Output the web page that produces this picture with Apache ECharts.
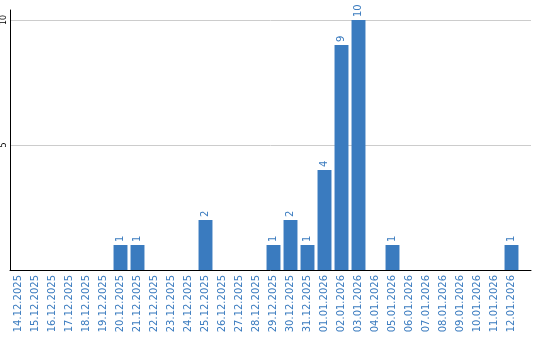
<!DOCTYPE html>
<html><head><meta charset="utf-8">
<script src="https://cdn.jsdelivr.net/npm/echarts@6/dist/echarts.min.js"></script>
<style>html,body{margin:0;padding:0;background:#fff}#c{width:540px;height:340px}</style>
</head><body><div id="c"></div>
<script>
const categories = ["14.12.2025","15.12.2025","16.12.2025","17.12.2025","18.12.2025","19.12.2025","20.12.2025","21.12.2025","22.12.2025","23.12.2025","24.12.2025","25.12.2025","26.12.2025","27.12.2025","28.12.2025","29.12.2025","30.12.2025","31.12.2025","01.01.2026","02.01.2026","03.01.2026","04.01.2026","05.01.2026","06.01.2026","07.01.2026","08.01.2026","09.01.2026","10.01.2026","11.01.2026","12.01.2026"];
const values = [0,0,0,0,0,0,1,1,0,0,0,2,0,0,0,1,2,1,4,9,10,0,1,0,0,0,0,0,0,1];
const yTicks = [5, 10];
const blue = '#3a7bbf';
const chart = echarts.init(document.getElementById('c'));
chart.setOption({
  animation: false,
  grid: [
    {left: 10, right: 9, top: 10, bottom: 70, containLabel: false},
    {left: 10, right: 20, top: 10, bottom: 70, containLabel: false}
  ],
  xAxis: [
    {
      type: 'value', gridIndex: 0, min: 0, max: 1,
      axisLine: {show: true, onZero: false, lineStyle: {color: '#000', width: 1}},
      axisTick: {show: false}, axisLabel: {show: false}, splitLine: {show: false}
    },
    {
      type: 'category', gridIndex: 1, data: categories,
      axisLine: {show: false},
      axisTick: {show: false},
      axisLabel: {rotate: 90, interval: 0, margin: 5, color: blue, fontFamily: 'DejaVu Sans', fontSize: 10}
    }
  ],
  yAxis: [
    {
      type: 'value', gridIndex: 0, min: 0, max: 10.4, interval: 5,
      axisLine: {show: true, lineStyle: {color: '#000', width: 1}},
      axisTick: {show: false},
      splitLine: {show: true, showMaxLine: false, lineStyle: {color: '#cccccc', width: 1}},
      axisLabel: {
        rotate: 90, margin: 2, color: '#000', fontFamily: 'DejaVu Sans', fontSize: 8,
        showMaxLabel: false,
        formatter: v => yTicks.includes(v) ? String(v) : ''
      }
    },
    {
      type: 'value', gridIndex: 1, min: 0, max: 10.4, interval: 5,
      axisLine: {show: false}, axisTick: {show: false}, axisLabel: {show: false}, splitLine: {show: false}
    }
  ],
  series: [{
    type: 'bar', data: values, xAxisIndex: 1, yAxisIndex: 1, barCategoryGap: '18%',
    itemStyle: {color: blue},
    label: {
      show: true, position: 'top', rotate: 90, align: 'left', verticalAlign: 'middle', distance: 3,
      color: blue, fontFamily: 'DejaVu Sans', fontSize: 10,
      formatter: p => p.value ? String(p.value) : ''
    }
  }]
});
</script></body></html>
